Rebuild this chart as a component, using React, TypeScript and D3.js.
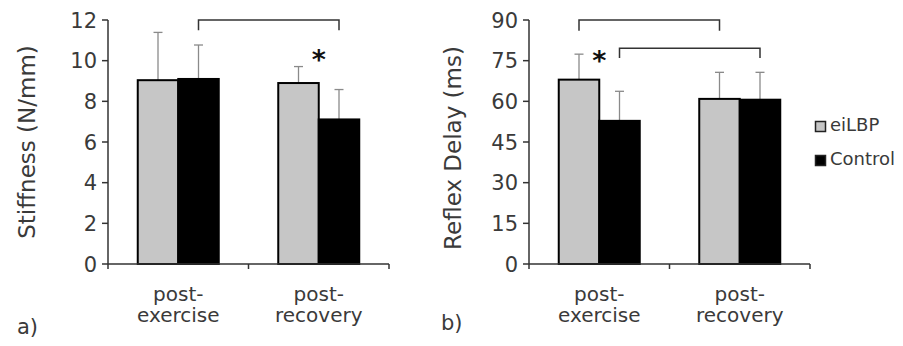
import * as d3 from 'd3';

const categories = ['post-exercise', 'post-recovery'];
const categoryLines = [['post-', 'exercise'], ['post-', 'recovery']];
const series = ['eiLBP', 'Control'];
const seriesFill = ['#c6c6c6', '#000000'];

// panel a) stiffness, N/mm
const stiffnessEiLBP = [9.04, 8.9];
const stiffnessControl = [9.1, 7.11];
const stiffnessEiLBPSd = [2.35, 0.81];
const stiffnessControlSd = [1.67, 1.47];
const stiffnessTicks = [0, 2, 4, 6, 8, 10, 12];

// panel b) reflex delay, ms
const reflexEiLBP = [68.0, 60.9];
const reflexControl = [52.8, 60.6];
const reflexEiLBPSd = [9.4, 9.8];
const reflexControlSd = [10.9, 10.1];
const reflexTicks = [0, 15, 30, 45, 60, 75, 90];

// brackets: [cat, series] -> [cat, series], top value, leg end value
const stiffnessBrackets = [{ from: [0, 1], to: [1, 1], top: 12, leg: 11.5 }];
const reflexBrackets = [
  { from: [0, 0], to: [1, 0], top: 90, leg: 86 },
  { from: [0, 1], to: [1, 1], top: 79.6, leg: 76 },
];
const stiffnessStars = [{ cat: 1, value: 10.4 }];
const reflexStars = [{ cat: 0, value: 77.6 }];

const TEXT = '#3a3a3a';
const FONT = 'DejaVu Sans, Verdana, sans-serif';

type Bracket = { from: number[]; to: number[]; top: number; leg: number };

function Panel(props: {
  x0: number; x1: number; yMax: number; ticks: number[];
  means: number[][]; sds: number[][]; label: string; tag: string; tagX: number; tagY: number;
  labelX: number; labelY: number; brackets: Bracket[]; stars: { cat: number; value: number }[];
}) {
  const { x0, x1, yMax, ticks, means, sds, label, tag, tagX, tagY, labelX, labelY, brackets, stars } = props;
  const y = d3.scaleLinear().domain([0, yMax]).range([264, 20]);
  const x = d3.scaleBand().domain(categories).range([x0, x1]);
  const groupW = 81;
  const xs = d3.scaleBand().domain(series).range([0, groupW]);
  const off = (x.bandwidth() - groupW) / 2;
  const barX = (c: number, s: number) => (x(categories[c]) as number) + off + (xs(series[s]) as number);
  const barMid = (c: number, s: number) => barX(c, s) + xs.bandwidth() / 2;
  const bounds = [x0, ...categories.map(c => (x(c) as number) + x.bandwidth())];

  return (
    <g>
      {/* y axis */}
      <line x1={x0} x2={x0} y1={y(yMax)} y2={y(0)} stroke="#333" strokeWidth={1.5} />
      {ticks.map(t => (
        <g key={t}>
          <line x1={x0 - 6} x2={x0} y1={y(t)} y2={y(t)} stroke="#333" strokeWidth={1.5} />
          <text x={x0 - 11} y={y(t)} dy="0.36em" textAnchor="end" fontSize={21} fill={TEXT} fontFamily={FONT}>{t}</text>
        </g>
      ))}
      <text transform={`translate(${labelX},${labelY}) rotate(-90)`} textAnchor="middle" fontSize={23} fill={TEXT} fontFamily={FONT}>{label}</text>

      {/* error bars, then bars */}
      {means.map((row, c) => row.map((v, s) => {
        const top = y(v + sds[c][s]);
        const mx = barMid(c, s);
        return (
          <g key={`${c}-${s}`}>
            <line x1={mx} x2={mx} y1={y(v)} y2={top} stroke="#8a8a8a" strokeWidth={1.3} />
            <line x1={mx - 4.5} x2={mx + 4.5} y1={top} y2={top} stroke="#8a8a8a" strokeWidth={1.3} />
          </g>
        );
      }))}
      {means.map((row, c) => row.map((v, s) => (
        <rect key={`b${c}-${s}`} x={barX(c, s)} y={y(v)} width={xs.bandwidth()} height={y(0) - y(v)}
          fill={seriesFill[s]} stroke="#000" strokeWidth={2} />
      )))}

      {/* x axis */}
      <line x1={x0} x2={x1} y1={y(0)} y2={y(0)} stroke="#333" strokeWidth={1.5} />
      {bounds.map((b, i) => (
        <line key={i} x1={b} x2={b} y1={y(0)} y2={y(0) + 5} stroke="#333" strokeWidth={1.5} />
      ))}
      {categoryLines.map((lines, c) => (
        <text key={c} textAnchor="middle" fontSize={20} fill={TEXT} fontFamily={FONT}>
          {lines.map((l, i) => (
            <tspan key={i} x={(x(categories[c]) as number) + x.bandwidth() / 2} y={301 + i * 21}>{l}</tspan>
          ))}
        </text>
      ))}

      {/* significance */}
      {brackets.map((b, i) => {
        const xa = barMid(b.from[0], b.from[1]);
        const xb = barMid(b.to[0], b.to[1]);
        return (
          <path key={i} d={`M${xa},${y(b.leg)}V${y(b.top)}H${xb}V${y(b.leg)}`} fill="none" stroke="#333" strokeWidth={1.5} />
        );
      })}
      {stars.map((s, i) => (
        <text key={i} x={(x(categories[s.cat]) as number) + x.bandwidth() / 2} y={y(s.value) + 16}
          textAnchor="middle" fontSize={27} fontWeight="bold" fill="#111" fontFamily={FONT}>*</text>
      ))}

      <text x={tagX} y={tagY} fontSize={21} fill={TEXT} fontFamily={FONT}>{tag}</text>
    </g>
  );
}

export default function App() {
  return (
    <svg width={903} height={346} style={{ position: 'absolute', left: 0, top: 0, background: '#fff' }}>
      <Panel x0={108} x1={389} yMax={12} ticks={stiffnessTicks}
        means={[[stiffnessEiLBP[0], stiffnessControl[0]], [stiffnessEiLBP[1], stiffnessControl[1]]]}
        sds={[[stiffnessEiLBPSd[0], stiffnessControlSd[0]], [stiffnessEiLBPSd[1], stiffnessControlSd[1]]]}
        label="Stiffness (N/mm)" labelX={35} labelY={142} tag="a)" tagX={17} tagY={334}
        brackets={stiffnessBrackets} stars={stiffnessStars} />
      <Panel x0={529} x1={810} yMax={90} ticks={reflexTicks}
        means={[[reflexEiLBP[0], reflexControl[0]], [reflexEiLBP[1], reflexControl[1]]]}
        sds={[[reflexEiLBPSd[0], reflexControlSd[0]], [reflexEiLBPSd[1], reflexControlSd[1]]]}
        label="Reflex Delay (ms)" labelX={461} labelY={148} tag="b)" tagX={441} tagY={330}
        brackets={reflexBrackets} stars={reflexStars} />
      {series.map((s, i) => (
        <g key={s}>
          <rect x={815.5} y={121.5 + i * 34} width={10} height={10} fill={seriesFill[i]} stroke="#222" strokeWidth={1.5} />
          <text x={830} y={131 + i * 34} fontSize={18} fill={TEXT} fontFamily={FONT}>{s}</text>
        </g>
      ))}
    </svg>
  );
}
